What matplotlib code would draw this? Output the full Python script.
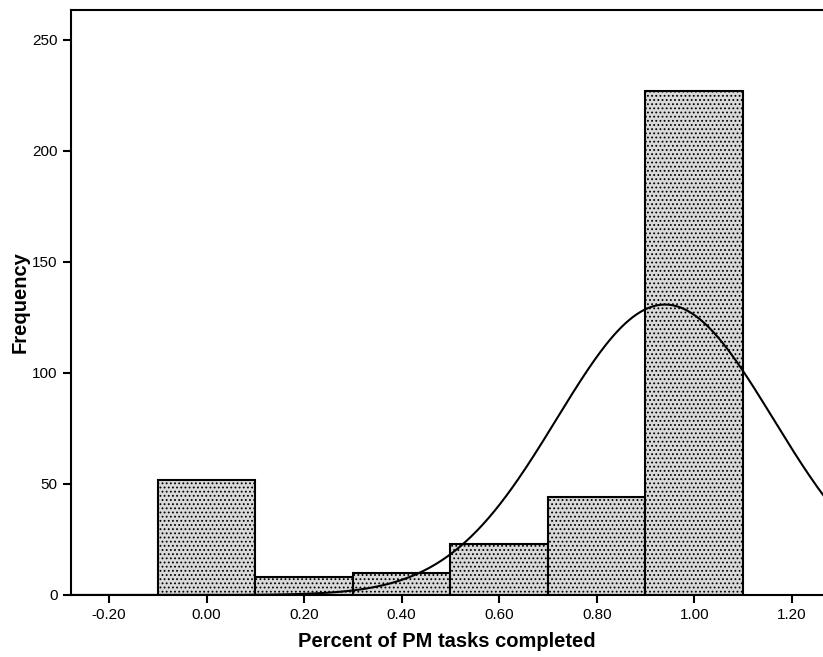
import numpy as np
import matplotlib.pyplot as plt

plt.rcParams['font.family'] = ['Liberation Sans', 'DejaVu Sans']
plt.rcParams['hatch.color'] = '#8c8c8c'
plt.rcParams['hatch.linewidth'] = 0.8

# histogram bins (centres) and counts
bin_centers = [0.0, 0.2, 0.4, 0.6, 0.8, 1.0]
counts = [52, 8, 10, 23, 44, 227]
bin_width = 0.2

# normal curve drawn over it
curve_mean = 0.94
curve_sd = 0.222

xticks = [-0.2, 0.0, 0.2, 0.4, 0.6, 0.8, 1.0, 1.2]
yticks = [0, 50, 100, 150, 200, 250]

fig = plt.figure(figsize=(8.23, 6.57), dpi=100)
ax = fig.add_axes([0.0863, 0.0944, 0.9137, 0.8904])

ax.bar(bin_centers, counts, width=bin_width, color='#d9d9d9',
       edgecolor='black', linewidth=1.5, hatch='....', zorder=2)

n_total = sum(counts)
xs = np.linspace(-0.3, 1.3, 400)
ys = n_total * bin_width / (curve_sd * np.sqrt(2 * np.pi)) * np.exp(-0.5 * ((xs - curve_mean) / curve_sd) ** 2)
ax.plot(xs, ys, color='black', linewidth=1.5, zorder=3)

ax.set_xlim(-0.278, 1.264)
ax.set_ylim(0, 263.5)
ax.set_xticks(xticks)
ax.set_xticklabels(['%.2f' % t for t in xticks])
ax.set_yticks(yticks)

ax.spines['right'].set_visible(False)
for s in ['left', 'bottom', 'top']:
    ax.spines[s].set_linewidth(1.5)
ax.tick_params(direction='out', length=6, width=1.5, labelsize=11)

ax.set_xlabel('Percent of PM tasks completed', fontsize=14.5, fontweight='bold', labelpad=7)
ax.set_ylabel('Frequency', fontsize=14.5, fontweight='bold', labelpad=2)

fig.savefig('out.png', dpi=100)
